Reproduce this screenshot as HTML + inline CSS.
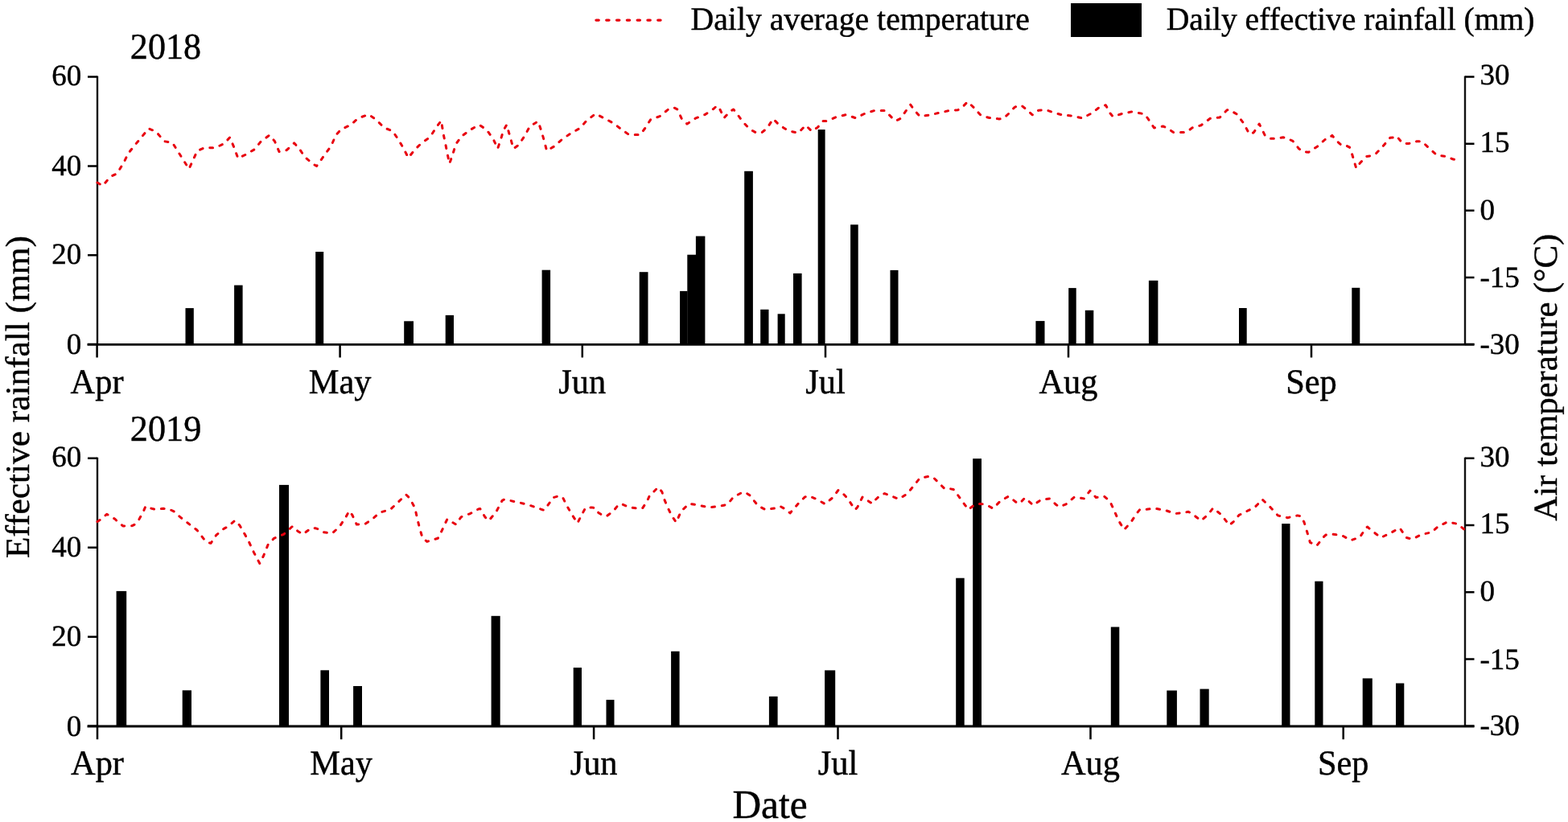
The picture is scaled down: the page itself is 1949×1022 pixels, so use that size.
<!DOCTYPE html>
<html><head><meta charset="utf-8"><title>Daily average temperature and effective rainfall</title>
<style>
html,body{margin:0;padding:0;background:#fff;}
body{width:1949px;height:1022px;overflow:hidden;}
svg{display:block;text-rendering:geometricPrecision;font-family:"Liberation Serif","Times New Roman",serif;fill:#000;}
text{stroke:#000;stroke-width:0.45px;}
</style></head><body>
<svg width="1949" height="1022" viewBox="0 0 1949 1022">
<rect width="100%" height="100%" fill="#fff"/>
<line x1="741" y1="25.1" x2="826" y2="25.1" stroke="#e8000e" stroke-width="3.4" stroke-dasharray="3.2 9.6" stroke-linecap="round"/>
<text x="858.56" y="37.20" font-size="40.61" textLength="421.24" lengthAdjust="spacingAndGlyphs">Daily average temperature</text>
<rect x="1331" y="4" width="88" height="42" fill="#000"/>
<text x="1449.71" y="37.30" font-size="40.30" textLength="457.87" lengthAdjust="spacingAndGlyphs">Daily effective rainfall (mm)</text>
<rect x="230.5" y="383.1" width="10.3" height="45.3" fill="#000"/>
<rect x="291.1" y="354.6" width="10.5" height="73.8" fill="#000"/>
<rect x="392.2" y="313.0" width="10.0" height="115.4" fill="#000"/>
<rect x="502.2" y="399.3" width="11.8" height="29.1" fill="#000"/>
<rect x="553.7" y="391.9" width="10.3" height="36.5" fill="#000"/>
<rect x="673.6" y="335.7" width="10.5" height="92.7" fill="#000"/>
<rect x="794.7" y="338.2" width="10.8" height="90.2" fill="#000"/>
<rect x="845.1" y="361.9" width="9.5" height="66.5" fill="#000"/>
<rect x="854.3" y="316.7" width="10.9" height="111.7" fill="#000"/>
<rect x="864.9" y="293.6" width="11.5" height="134.8" fill="#000"/>
<rect x="925.2" y="212.8" width="10.7" height="215.6" fill="#000"/>
<rect x="945.2" y="384.8" width="10.3" height="43.6" fill="#000"/>
<rect x="966.6" y="390.3" width="9.1" height="38.1" fill="#000"/>
<rect x="986.0" y="339.9" width="10.6" height="88.5" fill="#000"/>
<rect x="1016.7" y="161.1" width="8.9" height="267.3" fill="#000"/>
<rect x="1057.1" y="279.3" width="9.6" height="149.1" fill="#000"/>
<rect x="1106.5" y="335.9" width="10.0" height="92.5" fill="#000"/>
<rect x="1287.4" y="399.1" width="11.1" height="29.3" fill="#000"/>
<rect x="1328.2" y="358.1" width="9.5" height="70.3" fill="#000"/>
<rect x="1348.8" y="385.8" width="10.5" height="42.6" fill="#000"/>
<rect x="1427.9" y="348.8" width="11.5" height="79.6" fill="#000"/>
<rect x="1540.0" y="383.0" width="9.7" height="45.4" fill="#000"/>
<rect x="1680.3" y="357.8" width="10.0" height="70.6" fill="#000"/>
<path d="M121.0 94.6V428.1M1821.0 94.6V428.1" stroke="#111" stroke-width="2.4" fill="none"/>
<path d="M108.5 428.40H1832.5" stroke="#000" stroke-width="2.9" fill="none"/>
<path d="M109 95.60H121.0M109 206.43H121.0M109 317.27H121.0M109 428.10H121.0M1821.0 95.60H1832.5M1821.0 178.72H1832.5M1821.0 261.85H1832.5M1821.0 344.98H1832.5M1821.0 428.10H1832.5M120.6 428.10V444.6M422.6 428.10V444.6M723.8 428.10V444.6M1026.0 428.10V444.6M1328.0 428.10V444.6M1630.0 428.10V444.6" stroke="#000" stroke-width="2.5" fill="none"/>
<text x="101.2" y="106.1" font-size="37" text-anchor="end">60</text>
<text x="101.2" y="217.5" font-size="37" text-anchor="end">40</text>
<text x="101.2" y="328.2" font-size="37" text-anchor="end">20</text>
<text x="101.2" y="440.0" font-size="37" text-anchor="end">0</text>
<text x="1839.5" y="105.3" font-size="37">30</text>
<text x="1839.5" y="188.5" font-size="37">15</text>
<text x="1839.5" y="272.8" font-size="37">0</text>
<text x="1839.5" y="357.0" font-size="37">-15</text>
<text x="1839.5" y="439.5" font-size="37">-30</text>
<text x="120.6" y="489.0" font-size="43.5" text-anchor="middle" textLength="65.96" lengthAdjust="spacingAndGlyphs">Apr</text>
<text x="422.6" y="489.0" font-size="43.5" text-anchor="middle" textLength="77.74" lengthAdjust="spacingAndGlyphs">May</text>
<text x="723.8" y="489.0" font-size="43.5" text-anchor="middle" textLength="58.92" lengthAdjust="spacingAndGlyphs">Jun</text>
<text x="1026.0" y="489.0" font-size="43.5" text-anchor="middle" textLength="49.49" lengthAdjust="spacingAndGlyphs">Jul</text>
<text x="1328.0" y="489.0" font-size="43.5" text-anchor="middle" textLength="73.04" lengthAdjust="spacingAndGlyphs">Aug</text>
<text x="1630.0" y="489.0" font-size="43.5" text-anchor="middle" textLength="63.62" lengthAdjust="spacingAndGlyphs">Sep</text>
<text x="161.86" y="72.90" font-size="45.48" textLength="88.29" lengthAdjust="spacingAndGlyphs">2018</text>
<path d="M121.0 227.0 127.5 231.0 137.5 219.5 145.7 215.6 154.0 201.7 159.6 190.5 167.0 181.2 184.7 159.9 194.0 163.6 204.2 175.7 214.4 177.5 234.9 210.0 245.1 187.7 254.4 183.6 267.1 183.9 278.2 178.8 285.7 170.9 291.2 183.9 295.9 196.9 305.2 192.3 316.3 185.8 323.8 176.5 334.9 168.1 341.4 175.5 347.0 188.6 356.3 186.7 365.6 177.9 372.1 184.8 378.6 195.1 389.8 204.3 393.5 206.5 411.7 181.3 417.3 168.3 423.8 160.9 435.9 155.3 445.2 147.0 458.2 142.3 467.5 148.8 477.7 159.0 487.9 162.8 495.4 173.9 501.9 185.1 507.5 196.2 514.9 186.9 524.2 177.6 534.4 170.7 541.8 159.0 548.5 150.0 550.8 165.3 553.6 178.3 555.9 190.4 558.7 203.4 562.9 191.3 566.6 179.3 573.1 170.0 584.3 161.6 595.4 155.1 604.7 161.1 613.1 172.8 618.6 184.8 622.4 173.7 625.6 162.5 629.8 155.1 634.0 170.0 638.2 184.8 644.7 180.2 652.1 169.0 658.6 157.0 668.8 150.9 672.5 161.6 676.3 174.6 679.6 187.5 688.9 181.9 698.2 173.6 710.3 165.2 720.5 159.6 728.9 150.3 740.1 141.5 751.2 147.1 762.4 153.1 772.6 161.0 781.9 167.5 795.8 167.5 802.3 158.7 808.8 148.5 820.0 144.7 831.7 135.1 837.3 133.7 842.0 136.0 847.1 147.2 854.0 154.1 864.3 147.2 876.3 142.5 886.6 135.6 891.2 131.4 894.9 136.0 900.0 146.7 907.0 138.8 911.7 136.0 916.3 141.6 922.8 150.9 932.1 160.7 939.5 164.8 947.0 164.8 953.5 159.3 961.0 147.8 968.9 155.7 980.1 162.6 992.2 165.4 1001.5 155.7 1008.9 163.1 1016.3 158.4 1022.8 150.5 1028.4 150.5 1038.6 145.9 1051.7 142.6 1063.7 146.8 1074.9 141.2 1087.0 137.5 1100.0 137.5 1108.9 146.5 1113.6 150.2 1119.2 147.4 1126.6 137.2 1131.7 130.2 1135.9 136.2 1143.3 144.6 1154.5 143.2 1166.6 140.4 1179.6 137.6 1190.7 136.7 1195.4 133.9 1202.8 126.5 1210.2 133.5 1219.5 143.7 1229.8 146.5 1242.0 147.9 1247.1 147.4 1253.6 141.4 1261.0 133.5 1265.7 131.1 1270.3 131.6 1275.9 136.2 1283.3 142.8 1290.8 137.2 1300.1 136.7 1308.4 139.5 1319.6 142.8 1333.5 144.1 1345.1 146.9 1356.7 140.9 1367.0 133.0 1374.4 130.7 1380.0 140.9 1383.4 145.0 1393.6 141.7 1406.6 138.9 1419.6 141.2 1423.3 142.2 1428.9 150.5 1434.5 158.9 1445.6 157.0 1449.3 158.4 1458.6 164.5 1471.7 164.5 1475.4 164.0 1481.9 158.9 1493.0 155.7 1504.2 147.3 1516.3 145.9 1525.2 136.8 1528.0 136.4 1537.3 142.0 1545.7 153.1 1552.2 165.2 1555.0 167.0 1558.7 164.3 1565.2 154.0 1572.6 168.9 1579.1 172.2 1585.6 172.2 1594.9 170.8 1599.6 171.7 1607.0 175.4 1614.4 184.7 1619.1 188.4 1626.5 189.3 1637.7 181.9 1647.0 173.5 1650.2 172.9 1655.9 168.4 1660.4 174.2 1666.7 179.9 1671.2 179.9 1677.5 183.1 1680.7 192.0 1685.8 209.3 1690.9 202.2 1698.6 194.4 1703.6 193.9 1710.6 190.7 1719.5 181.2 1727.8 171.3 1731.6 171.0 1736.0 169.2 1743.2 178.1 1750.6 178.6 1760.9 175.8 1767.4 175.8 1776.7 184.6 1786.0 193.0 1797.1 194.4 1806.4 198.1 1816.0 199.0" stroke="#e8000e" stroke-width="3.0" fill="none" stroke-dasharray="3.8 8.9" stroke-linecap="round" stroke-linejoin="round"/>
<rect x="144.6" y="734.9" width="12.6" height="168.1" fill="#000"/>
<rect x="226.7" y="858.3" width="11.3" height="44.7" fill="#000"/>
<rect x="347.0" y="602.9" width="12.0" height="300.1" fill="#000"/>
<rect x="398.4" y="833.3" width="10.6" height="69.7" fill="#000"/>
<rect x="439.1" y="853.0" width="10.9" height="50.0" fill="#000"/>
<rect x="610.6" y="765.8" width="11.1" height="137.2" fill="#000"/>
<rect x="712.7" y="830.1" width="10.3" height="72.9" fill="#000"/>
<rect x="753.5" y="870.1" width="10.0" height="32.9" fill="#000"/>
<rect x="834.1" y="809.8" width="10.5" height="93.2" fill="#000"/>
<rect x="955.9" y="865.9" width="10.7" height="37.1" fill="#000"/>
<rect x="1025.1" y="833.4" width="13.1" height="69.6" fill="#000"/>
<rect x="1188.2" y="718.7" width="10.5" height="184.3" fill="#000"/>
<rect x="1209.2" y="570.2" width="10.8" height="332.8" fill="#000"/>
<rect x="1380.8" y="779.5" width="10.5" height="123.5" fill="#000"/>
<rect x="1450.3" y="858.5" width="12.6" height="44.5" fill="#000"/>
<rect x="1491.5" y="856.6" width="11.2" height="46.4" fill="#000"/>
<rect x="1593.2" y="651.1" width="10.3" height="251.9" fill="#000"/>
<rect x="1634.3" y="722.7" width="10.2" height="180.3" fill="#000"/>
<rect x="1693.7" y="843.4" width="12.1" height="59.6" fill="#000"/>
<rect x="1735.0" y="849.5" width="10.3" height="53.5" fill="#000"/>
<path d="M121.0 568.8V902.8M1821.0 568.8V902.8" stroke="#111" stroke-width="2.4" fill="none"/>
<path d="M108.5 903.00H1832.5" stroke="#000" stroke-width="2.9" fill="none"/>
<path d="M109 569.80H121.0M109 680.78H121.0M109 791.77H121.0M109 902.75H121.0M1821.0 569.80H1832.5M1821.0 653.04H1832.5M1821.0 736.27H1832.5M1821.0 819.51H1832.5M1821.0 902.75H1832.5M121.0 902.75V919.2M424.2 902.75V919.2M738.1 902.75V919.2M1041.5 902.75V919.2M1355.5 902.75V919.2M1669.7 902.75V919.2" stroke="#000" stroke-width="2.5" fill="none"/>
<text x="101.2" y="580.3" font-size="37" text-anchor="end">60</text>
<text x="101.2" y="691.9" font-size="37" text-anchor="end">40</text>
<text x="101.2" y="802.7" font-size="37" text-anchor="end">20</text>
<text x="101.2" y="914.6" font-size="37" text-anchor="end">0</text>
<text x="1839.5" y="579.5" font-size="37">30</text>
<text x="1839.5" y="662.8" font-size="37">15</text>
<text x="1839.5" y="747.2" font-size="37">0</text>
<text x="1839.5" y="831.5" font-size="37">-15</text>
<text x="1839.5" y="914.1" font-size="37">-30</text>
<text x="121.0" y="962.6" font-size="43.5" text-anchor="middle" textLength="65.96" lengthAdjust="spacingAndGlyphs">Apr</text>
<text x="424.2" y="962.6" font-size="43.5" text-anchor="middle" textLength="77.74" lengthAdjust="spacingAndGlyphs">May</text>
<text x="738.1" y="962.6" font-size="43.5" text-anchor="middle" textLength="58.92" lengthAdjust="spacingAndGlyphs">Jun</text>
<text x="1041.5" y="962.6" font-size="43.5" text-anchor="middle" textLength="49.49" lengthAdjust="spacingAndGlyphs">Jul</text>
<text x="1355.5" y="962.6" font-size="43.5" text-anchor="middle" textLength="73.04" lengthAdjust="spacingAndGlyphs">Aug</text>
<text x="1669.7" y="962.6" font-size="43.5" text-anchor="middle" textLength="63.62" lengthAdjust="spacingAndGlyphs">Sep</text>
<text x="161.86" y="548.00" font-size="45.48" textLength="88.41" lengthAdjust="spacingAndGlyphs">2019</text>
<path d="M121.0 648.6 125.2 645.8 132.7 639.3 142.9 645.3 145.7 648.1 153.1 654.1 164.3 653.7 167.0 652.3 172.6 646.2 178.2 636.0 181.0 629.5 186.6 631.8 192.1 633.2 203.3 632.3 210.7 633.2 216.3 636.0 224.7 643.5 234.9 651.4 245.1 659.3 253.5 670.4 257.2 674.1 262.0 675.4 268.9 665.2 278.2 657.3 282.9 655.0 292.2 647.1 297.8 653.1 304.3 664.3 309.8 674.5 315.4 686.6 322.8 700.5 327.5 691.2 333.1 677.3 340.5 669.4 352.6 664.3 362.8 655.0 364.7 654.5 370.2 660.5 376.7 664.3 381.4 660.5 387.9 656.4 392.5 656.8 397.8 658.6 402.4 661.8 412.7 663.2 422.0 654.8 429.4 643.7 434.0 635.3 437.7 640.0 443.3 652.0 453.6 651.6 462.8 645.5 472.1 637.2 485.1 633.5 493.5 625.6 504.7 614.9 509.3 619.5 515.8 631.6 518.6 644.6 521.4 655.8 525.1 668.8 530.7 673.4 544.3 669.2 548.9 660.4 553.6 650.2 555.9 645.5 566.6 652.0 573.1 642.8 584.3 638.6 594.5 633.0 596.8 632.5 602.8 642.8 607.5 647.4 616.8 636.2 624.2 622.3 627.0 620.9 633.5 622.3 646.5 625.1 658.6 628.3 670.7 632.5 676.3 634.4 682.4 626.2 687.1 618.8 695.4 616.5 700.1 619.7 704.7 629.0 711.2 640.2 717.8 650.4 721.5 643.0 728.0 630.9 735.4 630.9 740.1 631.8 743.8 637.4 750.3 641.6 754.9 641.1 762.4 635.5 768.9 627.2 772.6 626.7 782.8 630.9 794.9 632.3 798.6 631.8 804.2 623.5 807.9 615.1 811.6 612.3 818.1 605.8 822.8 611.4 825.2 619.7 829.9 630.9 835.4 642.0 840.6 649.5 846.6 635.5 856.8 626.2 868.0 628.1 881.0 630.9 894.0 629.5 904.2 627.2 911.7 617.9 915.4 616.0 923.3 611.8 926.5 612.3 932.1 616.0 935.8 620.7 942.3 629.0 951.6 633.7 963.7 631.8 969.9 629.5 976.4 633.2 982.0 637.9 992.2 626.2 1000.5 617.9 1005.2 616.5 1015.4 620.7 1020.1 623.5 1025.6 626.7 1034.9 618.8 1041.9 609.5 1046.1 611.8 1053.5 619.7 1062.8 633.7 1065.6 630.9 1072.1 617.9 1078.6 622.5 1084.2 626.2 1087.9 621.6 1094.4 615.6 1099.6 613.6 1108.0 616.8 1117.3 620.5 1127.5 614.0 1135.9 603.8 1143.3 594.5 1147.0 593.6 1155.4 592.2 1160.1 593.6 1167.5 601.0 1174.0 607.5 1179.6 607.5 1185.1 608.5 1188.9 613.1 1195.4 622.4 1203.7 633.6 1212.1 627.0 1217.7 626.6 1225.1 627.0 1234.4 632.2 1242.4 624.0 1246.2 621.2 1253.6 617.1 1263.8 625.0 1267.5 625.9 1274.0 618.9 1284.3 628.2 1293.5 621.7 1304.7 619.9 1313.1 627.8 1316.8 630.1 1325.1 626.8 1335.4 618.0 1347.5 619.9 1354.9 610.1 1362.3 618.5 1372.5 617.1 1379.6 623.2 1385.2 635.3 1389.9 646.5 1397.3 658.6 1405.7 649.3 1413.1 638.1 1416.8 633.5 1423.3 633.5 1435.4 632.1 1448.4 634.4 1460.5 638.6 1471.7 637.2 1477.2 636.2 1481.9 639.0 1493.0 647.4 1501.4 640.0 1507.9 631.6 1518.1 640.0 1528.0 653.0 1533.6 648.3 1540.1 640.4 1551.2 634.9 1559.6 630.7 1563.3 627.0 1568.9 620.9 1579.1 630.7 1588.4 640.9 1600.5 643.7 1612.6 640.9 1617.2 641.8 1621.0 649.3 1624.7 661.3 1628.4 674.3 1636.7 678.5 1645.1 667.8 1647.9 665.1 1655.3 664.1 1668.0 665.7 1679.2 671.7 1690.3 668.0 1696.8 657.8 1699.6 655.0 1706.1 660.5 1716.3 668.4 1727.5 663.3 1737.7 657.3 1740.0 656.4 1745.1 664.3 1747.9 668.4 1755.4 670.3 1767.5 664.3 1779.5 661.9 1787.0 655.0 1799.0 648.9 1811.1 651.2 1819.5 657.8" stroke="#e8000e" stroke-width="3.0" fill="none" stroke-dasharray="3.8 8.9" stroke-linecap="round" stroke-linejoin="round"/>
<text transform="translate(36.2 693.9) rotate(-90) scale(1 0.975)" font-size="43.3">Effective rainfall (mm)</text>
<text transform="translate(1934.6 647.7) rotate(-90) scale(1 0.975)" font-size="42.8">Air temperature (°C)</text>
<text x="910.42" y="1017.30" font-size="50.49" textLength="93.30" lengthAdjust="spacingAndGlyphs">Date</text>
</svg>
</body></html>
